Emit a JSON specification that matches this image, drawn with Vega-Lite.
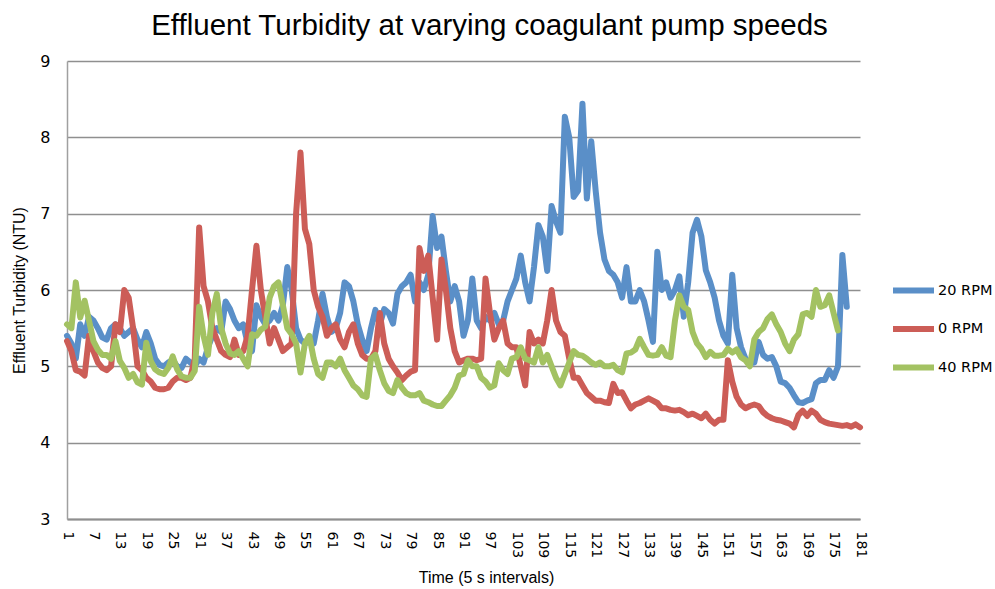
{
  "$schema": "https://vega.github.io/schema/vega-lite/v6.json",
  "width": 793,
  "height": 458,
  "autosize": "none",
  "padding": {"left": 67, "top": 61, "right": 135, "bottom": 70},
  "background": "white",
  "config": {"view": {"stroke": null}},
  "title": {"text": "Effluent Turbidity at varying coagulant pump speeds", "font": "Liberation Sans", "fontSize": 29.5, "fontWeight": "normal", "color": "black", "anchor": "middle", "dx": 26, "offset": 12},
  "data": {"values": [
{"t":1,"20 RPM":5.4,"0 RPM":5.33,"40 RPM":5.55},
{"t":2,"20 RPM":5.3,"0 RPM":5.2,"40 RPM":5.5},
{"t":3,"20 RPM":5.1,"0 RPM":4.95,"40 RPM":6.1},
{"t":4,"20 RPM":5.55,"0 RPM":4.93,"40 RPM":5.64},
{"t":5,"20 RPM":5.4,"0 RPM":4.88,"40 RPM":5.86},
{"t":6,"20 RPM":5.65,"0 RPM":5.4,"40 RPM":5.6},
{"t":7,"20 RPM":5.6,"0 RPM":5.2,"40 RPM":5.33},
{"t":8,"20 RPM":5.5,"0 RPM":5.05,"40 RPM":5.22},
{"t":9,"20 RPM":5.38,"0 RPM":4.98,"40 RPM":5.15},
{"t":10,"20 RPM":5.35,"0 RPM":4.95,"40 RPM":5.15},
{"t":11,"20 RPM":5.5,"0 RPM":5.0,"40 RPM":5.1},
{"t":12,"20 RPM":5.55,"0 RPM":5.55,"40 RPM":5.33},
{"t":13,"20 RPM":5.5,"0 RPM":5.45,"40 RPM":5.07},
{"t":14,"20 RPM":5.4,"0 RPM":6.0,"40 RPM":4.98},
{"t":15,"20 RPM":5.45,"0 RPM":5.9,"40 RPM":4.85},
{"t":16,"20 RPM":5.5,"0 RPM":5.5,"40 RPM":4.9},
{"t":17,"20 RPM":5.35,"0 RPM":5.0,"40 RPM":4.79},
{"t":18,"20 RPM":5.25,"0 RPM":4.95,"40 RPM":4.76},
{"t":19,"20 RPM":5.45,"0 RPM":4.85,"40 RPM":5.31},
{"t":20,"20 RPM":5.3,"0 RPM":4.8,"40 RPM":5.07},
{"t":21,"20 RPM":5.1,"0 RPM":4.72,"40 RPM":4.96},
{"t":22,"20 RPM":5.02,"0 RPM":4.7,"40 RPM":4.92},
{"t":23,"20 RPM":5.0,"0 RPM":4.7,"40 RPM":4.9},
{"t":24,"20 RPM":5.05,"0 RPM":4.72,"40 RPM":4.98},
{"t":25,"20 RPM":5.08,"0 RPM":4.8,"40 RPM":5.13},
{"t":26,"20 RPM":5.0,"0 RPM":4.85,"40 RPM":4.96},
{"t":27,"20 RPM":4.98,"0 RPM":4.85,"40 RPM":4.87},
{"t":28,"20 RPM":5.1,"0 RPM":4.82,"40 RPM":4.85},
{"t":29,"20 RPM":5.05,"0 RPM":4.85,"40 RPM":4.85},
{"t":30,"20 RPM":5.0,"0 RPM":5.1,"40 RPM":4.94},
{"t":31,"20 RPM":5.1,"0 RPM":6.82,"40 RPM":5.78},
{"t":32,"20 RPM":5.05,"0 RPM":6.05,"40 RPM":5.4},
{"t":33,"20 RPM":5.25,"0 RPM":5.85,"40 RPM":5.15},
{"t":34,"20 RPM":5.4,"0 RPM":5.5,"40 RPM":5.7},
{"t":35,"20 RPM":5.5,"0 RPM":5.35,"40 RPM":5.95},
{"t":36,"20 RPM":5.45,"0 RPM":5.2,"40 RPM":5.5},
{"t":37,"20 RPM":5.85,"0 RPM":5.15,"40 RPM":5.3},
{"t":38,"20 RPM":5.75,"0 RPM":5.12,"40 RPM":5.17},
{"t":39,"20 RPM":5.6,"0 RPM":5.35,"40 RPM":5.15},
{"t":40,"20 RPM":5.5,"0 RPM":5.15,"40 RPM":5.2},
{"t":41,"20 RPM":5.55,"0 RPM":5.2,"40 RPM":5.1},
{"t":42,"20 RPM":5.3,"0 RPM":5.4,"40 RPM":5.0},
{"t":43,"20 RPM":5.2,"0 RPM":6.0,"40 RPM":5.42},
{"t":44,"20 RPM":5.8,"0 RPM":6.58,"40 RPM":5.4},
{"t":45,"20 RPM":5.65,"0 RPM":6.0,"40 RPM":5.48},
{"t":46,"20 RPM":5.55,"0 RPM":5.65,"40 RPM":5.52},
{"t":47,"20 RPM":5.6,"0 RPM":5.3,"40 RPM":5.9},
{"t":48,"20 RPM":5.7,"0 RPM":5.5,"40 RPM":6.05},
{"t":49,"20 RPM":5.6,"0 RPM":5.35,"40 RPM":6.1},
{"t":50,"20 RPM":5.8,"0 RPM":5.2,"40 RPM":5.8},
{"t":51,"20 RPM":6.3,"0 RPM":5.25,"40 RPM":5.5},
{"t":52,"20 RPM":6.0,"0 RPM":5.3,"40 RPM":5.42},
{"t":53,"20 RPM":5.5,"0 RPM":7.0,"40 RPM":5.3},
{"t":54,"20 RPM":5.35,"0 RPM":7.8,"40 RPM":4.92},
{"t":55,"20 RPM":5.3,"0 RPM":6.8,"40 RPM":5.3},
{"t":56,"20 RPM":5.32,"0 RPM":6.6,"40 RPM":5.4},
{"t":57,"20 RPM":5.3,"0 RPM":6.0,"40 RPM":5.1},
{"t":58,"20 RPM":5.6,"0 RPM":5.78,"40 RPM":4.9},
{"t":59,"20 RPM":5.95,"0 RPM":5.65,"40 RPM":4.85},
{"t":60,"20 RPM":5.65,"0 RPM":5.4,"40 RPM":5.05},
{"t":61,"20 RPM":5.45,"0 RPM":5.5,"40 RPM":5.05},
{"t":62,"20 RPM":5.5,"0 RPM":5.55,"40 RPM":5.0},
{"t":63,"20 RPM":5.7,"0 RPM":5.35,"40 RPM":5.1},
{"t":64,"20 RPM":6.1,"0 RPM":5.25,"40 RPM":4.95},
{"t":65,"20 RPM":6.05,"0 RPM":5.45,"40 RPM":4.85},
{"t":66,"20 RPM":5.85,"0 RPM":5.55,"40 RPM":4.75},
{"t":67,"20 RPM":5.55,"0 RPM":5.3,"40 RPM":4.7},
{"t":68,"20 RPM":5.35,"0 RPM":5.15,"40 RPM":4.62},
{"t":69,"20 RPM":5.2,"0 RPM":5.1,"40 RPM":4.6},
{"t":70,"20 RPM":5.5,"0 RPM":5.1,"40 RPM":5.1},
{"t":71,"20 RPM":5.74,"0 RPM":5.2,"40 RPM":5.15},
{"t":72,"20 RPM":5.55,"0 RPM":5.7,"40 RPM":4.95},
{"t":73,"20 RPM":5.75,"0 RPM":5.3,"40 RPM":4.78},
{"t":74,"20 RPM":5.7,"0 RPM":5.1,"40 RPM":4.68},
{"t":75,"20 RPM":5.56,"0 RPM":5.0,"40 RPM":4.65},
{"t":76,"20 RPM":5.95,"0 RPM":4.92,"40 RPM":4.82},
{"t":77,"20 RPM":6.05,"0 RPM":4.82,"40 RPM":4.72},
{"t":78,"20 RPM":6.1,"0 RPM":4.88,"40 RPM":4.65},
{"t":79,"20 RPM":6.2,"0 RPM":4.93,"40 RPM":4.62},
{"t":80,"20 RPM":5.85,"0 RPM":4.95,"40 RPM":4.62},
{"t":81,"20 RPM":6.1,"0 RPM":6.55,"40 RPM":4.65},
{"t":82,"20 RPM":6.0,"0 RPM":6.25,"40 RPM":4.55},
{"t":83,"20 RPM":6.2,"0 RPM":6.45,"40 RPM":4.53},
{"t":84,"20 RPM":6.97,"0 RPM":5.9,"40 RPM":4.5},
{"t":85,"20 RPM":6.55,"0 RPM":5.35,"40 RPM":4.48},
{"t":86,"20 RPM":6.7,"0 RPM":6.4,"40 RPM":4.48},
{"t":87,"20 RPM":6.25,"0 RPM":6.0,"40 RPM":4.55},
{"t":88,"20 RPM":5.85,"0 RPM":5.5,"40 RPM":4.62},
{"t":89,"20 RPM":6.05,"0 RPM":5.2,"40 RPM":4.72},
{"t":90,"20 RPM":5.85,"0 RPM":5.05,"40 RPM":4.88},
{"t":91,"20 RPM":5.4,"0 RPM":5.08,"40 RPM":4.9},
{"t":92,"20 RPM":5.6,"0 RPM":5.1,"40 RPM":5.08},
{"t":93,"20 RPM":6.15,"0 RPM":5.1,"40 RPM":5.0},
{"t":94,"20 RPM":5.6,"0 RPM":5.08,"40 RPM":5.0},
{"t":95,"20 RPM":5.5,"0 RPM":5.1,"40 RPM":4.85},
{"t":96,"20 RPM":5.65,"0 RPM":6.15,"40 RPM":4.8},
{"t":97,"20 RPM":5.6,"0 RPM":5.7,"40 RPM":4.72},
{"t":98,"20 RPM":5.7,"0 RPM":5.35,"40 RPM":4.75},
{"t":99,"20 RPM":5.55,"0 RPM":5.5,"40 RPM":5.04},
{"t":100,"20 RPM":5.6,"0 RPM":5.6,"40 RPM":4.95},
{"t":101,"20 RPM":5.85,"0 RPM":5.3,"40 RPM":4.9},
{"t":102,"20 RPM":6.0,"0 RPM":5.25,"40 RPM":5.1},
{"t":103,"20 RPM":6.15,"0 RPM":5.25,"40 RPM":5.12},
{"t":104,"20 RPM":6.45,"0 RPM":5.0,"40 RPM":5.25},
{"t":105,"20 RPM":6.1,"0 RPM":4.75,"40 RPM":5.1},
{"t":106,"20 RPM":5.85,"0 RPM":5.45,"40 RPM":5.08},
{"t":107,"20 RPM":6.3,"0 RPM":5.3,"40 RPM":5.05},
{"t":108,"20 RPM":6.85,"0 RPM":5.35,"40 RPM":5.25},
{"t":109,"20 RPM":6.7,"0 RPM":5.3,"40 RPM":5.05},
{"t":110,"20 RPM":6.25,"0 RPM":5.6,"40 RPM":5.15},
{"t":111,"20 RPM":7.1,"0 RPM":6.0,"40 RPM":5.0},
{"t":112,"20 RPM":6.9,"0 RPM":5.6,"40 RPM":4.85},
{"t":113,"20 RPM":6.75,"0 RPM":5.45,"40 RPM":4.75},
{"t":114,"20 RPM":8.27,"0 RPM":5.4,"40 RPM":4.9},
{"t":115,"20 RPM":8.0,"0 RPM":5.1,"40 RPM":5.05},
{"t":116,"20 RPM":7.22,"0 RPM":4.85,"40 RPM":5.2},
{"t":117,"20 RPM":7.3,"0 RPM":4.85,"40 RPM":5.15},
{"t":118,"20 RPM":8.44,"0 RPM":4.75,"40 RPM":5.14},
{"t":119,"20 RPM":7.2,"0 RPM":4.65,"40 RPM":5.1},
{"t":120,"20 RPM":7.95,"0 RPM":4.6,"40 RPM":5.05},
{"t":121,"20 RPM":7.3,"0 RPM":4.55,"40 RPM":5.02},
{"t":122,"20 RPM":6.75,"0 RPM":4.55,"40 RPM":5.05},
{"t":123,"20 RPM":6.4,"0 RPM":4.53,"40 RPM":5.0},
{"t":124,"20 RPM":6.25,"0 RPM":4.52,"40 RPM":5.0},
{"t":125,"20 RPM":6.2,"0 RPM":4.77,"40 RPM":5.02},
{"t":126,"20 RPM":6.1,"0 RPM":4.65,"40 RPM":4.95},
{"t":127,"20 RPM":5.9,"0 RPM":4.66,"40 RPM":4.92},
{"t":128,"20 RPM":6.3,"0 RPM":4.55,"40 RPM":5.17},
{"t":129,"20 RPM":5.85,"0 RPM":4.45,"40 RPM":5.18},
{"t":130,"20 RPM":5.85,"0 RPM":4.5,"40 RPM":5.22},
{"t":131,"20 RPM":6.0,"0 RPM":4.52,"40 RPM":5.36},
{"t":132,"20 RPM":5.85,"0 RPM":4.55,"40 RPM":5.25},
{"t":133,"20 RPM":5.6,"0 RPM":4.58,"40 RPM":5.15},
{"t":134,"20 RPM":5.32,"0 RPM":4.55,"40 RPM":5.14},
{"t":135,"20 RPM":6.5,"0 RPM":4.52,"40 RPM":5.15},
{"t":136,"20 RPM":6.0,"0 RPM":4.45,"40 RPM":5.25},
{"t":137,"20 RPM":6.1,"0 RPM":4.45,"40 RPM":5.14},
{"t":138,"20 RPM":5.9,"0 RPM":4.43,"40 RPM":5.12},
{"t":139,"20 RPM":6.0,"0 RPM":4.42,"40 RPM":5.6},
{"t":140,"20 RPM":6.18,"0 RPM":4.43,"40 RPM":5.93},
{"t":141,"20 RPM":5.65,"0 RPM":4.4,"40 RPM":5.78},
{"t":142,"20 RPM":6.1,"0 RPM":4.36,"40 RPM":5.74},
{"t":143,"20 RPM":6.75,"0 RPM":4.38,"40 RPM":5.45},
{"t":144,"20 RPM":6.92,"0 RPM":4.35,"40 RPM":5.3},
{"t":145,"20 RPM":6.7,"0 RPM":4.32,"40 RPM":5.23},
{"t":146,"20 RPM":6.26,"0 RPM":4.38,"40 RPM":5.12},
{"t":147,"20 RPM":6.1,"0 RPM":4.3,"40 RPM":5.19},
{"t":148,"20 RPM":5.9,"0 RPM":4.25,"40 RPM":5.14},
{"t":149,"20 RPM":5.6,"0 RPM":4.3,"40 RPM":5.14},
{"t":150,"20 RPM":5.4,"0 RPM":4.3,"40 RPM":5.15},
{"t":151,"20 RPM":5.3,"0 RPM":5.08,"40 RPM":5.23},
{"t":152,"20 RPM":6.2,"0 RPM":4.8,"40 RPM":5.18},
{"t":153,"20 RPM":5.5,"0 RPM":4.6,"40 RPM":5.22},
{"t":154,"20 RPM":5.25,"0 RPM":4.5,"40 RPM":5.12},
{"t":155,"20 RPM":5.1,"0 RPM":4.45,"40 RPM":5.08},
{"t":156,"20 RPM":5.04,"0 RPM":4.48,"40 RPM":5.0},
{"t":157,"20 RPM":5.05,"0 RPM":4.5,"40 RPM":5.35},
{"t":158,"20 RPM":5.32,"0 RPM":4.48,"40 RPM":5.45},
{"t":159,"20 RPM":5.15,"0 RPM":4.4,"40 RPM":5.5},
{"t":160,"20 RPM":5.1,"0 RPM":4.35,"40 RPM":5.62},
{"t":161,"20 RPM":5.12,"0 RPM":4.32,"40 RPM":5.68},
{"t":162,"20 RPM":5.0,"0 RPM":4.3,"40 RPM":5.55},
{"t":163,"20 RPM":4.8,"0 RPM":4.29,"40 RPM":5.45},
{"t":164,"20 RPM":4.78,"0 RPM":4.27,"40 RPM":5.3},
{"t":165,"20 RPM":4.72,"0 RPM":4.25,"40 RPM":5.2},
{"t":166,"20 RPM":4.62,"0 RPM":4.2,"40 RPM":5.35},
{"t":167,"20 RPM":4.53,"0 RPM":4.36,"40 RPM":5.42},
{"t":168,"20 RPM":4.52,"0 RPM":4.42,"40 RPM":5.68},
{"t":169,"20 RPM":4.55,"0 RPM":4.35,"40 RPM":5.7},
{"t":170,"20 RPM":4.57,"0 RPM":4.42,"40 RPM":5.65},
{"t":171,"20 RPM":4.78,"0 RPM":4.38,"40 RPM":6.0},
{"t":172,"20 RPM":4.82,"0 RPM":4.3,"40 RPM":5.78},
{"t":173,"20 RPM":4.82,"0 RPM":4.27,"40 RPM":5.8},
{"t":174,"20 RPM":4.95,"0 RPM":4.25,"40 RPM":5.93},
{"t":175,"20 RPM":4.85,"0 RPM":4.24,"40 RPM":5.7},
{"t":176,"20 RPM":5.0,"0 RPM":4.23,"40 RPM":5.47},
{"t":177,"20 RPM":6.46,"0 RPM":4.22},
{"t":178,"20 RPM":5.78,"0 RPM":4.23},
{"t":179,"0 RPM":4.21},
{"t":180,"0 RPM":4.24},
{"t":181,"0 RPM":4.2}
  ]},
  "transform": [{"fold": ["20 RPM", "0 RPM", "40 RPM"], "as": ["series", "v"]}],
  "mark": {"type": "line", "strokeWidth": 6, "strokeJoin": "round", "strokeCap": "round"},
  "encoding": {
    "x": {
      "field": "t", "type": "quantitative",
      "scale": {"domain": [1, 181], "nice": false, "zero": false},
      "axis": {
        "values": [1,7,13,19,25,31,37,43,49,55,61,67,73,79,85,91,97,103,109,115,121,127,133,139,145,151,157,163,169,175,181],
        "labelAngle": 90, "labelFont": "DejaVu Sans", "labelFontSize": 14, "labelColor": "black", "labelPadding": 12,
        "grid": false, "ticks": false, "tickSize": 0, "domain": true, "domainColor": "#8f8f8f", "domainWidth": 2,
        "title": "Time (5 s intervals)", "titleFont": "Liberation Sans", "titleFontSize": 16, "titleFontWeight": "normal", "titleColor": "black", "titlePadding": 12,
        "titleX": 419, "titleAlign": "center",
        "labelFlush": false, "labelOverlap": false
      }
    },
    "y": {
      "field": "v", "type": "quantitative",
      "scale": {"domain": [3, 9], "nice": false, "zero": false},
      "axis": {
        "values": [3,4,5,6,7,8,9],
        "labelFont": "DejaVu Sans", "labelFontSize": 16, "labelColor": "black", "labelPadding": 17,
        "grid": true, "gridColor": "#8f8f8f", "gridWidth": 1.5, "ticks": false, "tickSize": 0,
        "domain": true, "domainColor": "#a0a0a0", "domainWidth": 1.5,
        "title": "Effluent Turbidity (NTU)", "titleFont": "Liberation Sans", "titleFontSize": 16, "titleFontWeight": "normal", "titleColor": "black", "titlePadding": 12
      }
    },
    "color": {
      "field": "series", "type": "nominal",
      "scale": {"domain": ["20 RPM", "0 RPM", "40 RPM"], "range": ["#5a8fc8", "#cc5d57", "#a3c262"]},
      "legend": {
        "title": null, "orient": "none", "legendX": 823, "legendY": 206,
        "symbolType": "stroke", "symbolSize": 1681, "symbolStrokeWidth": 6,
        "labelFont": "DejaVu Sans", "labelFontSize": 14.5, "labelColor": "black", "labelOffset": 1,
        "rowPadding": 2.5, "padding": 0
      }
    }
  }
}
